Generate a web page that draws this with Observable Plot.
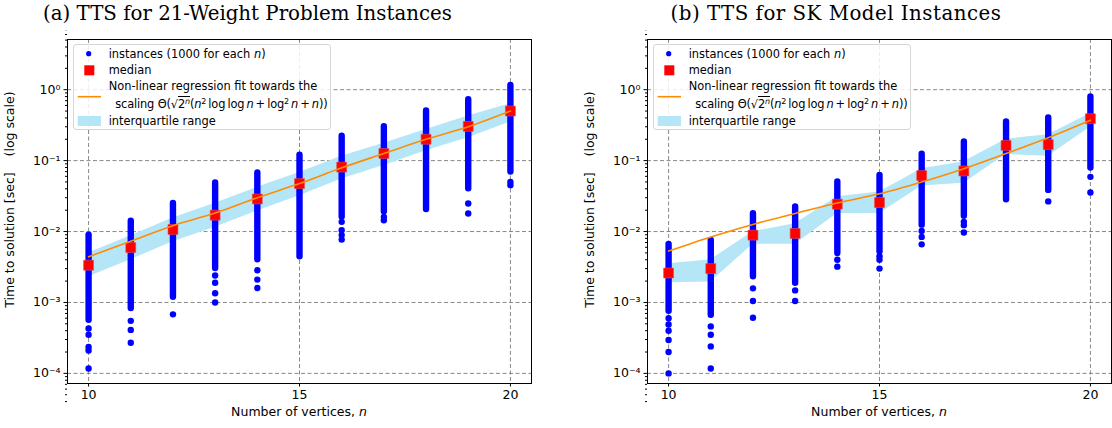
<!DOCTYPE html>
<html><head><meta charset="utf-8">
<script src="https://cdn.jsdelivr.net/npm/d3@7"></script>
<script src="https://cdn.jsdelivr.net/npm/@observablehq/plot@0.6"></script>
<style>
body{margin:0;background:#fff;width:1112px;height:428px;overflow:hidden;position:relative;font-family:"DejaVu Sans",sans-serif;color:#000;}
.panel{position:absolute;top:0;width:532px;height:428px;}
.title{position:absolute;top:1px;font-family:"DejaVu Serif",serif;font-size:19.8px;white-space:nowrap;transform:translateX(-50%);line-height:26px;}
.chart{position:absolute;top:30px;left:0;}
.xlabel{position:absolute;top:404px;left:299px;font-size:12.5px;line-height:16px;transform:translateX(-50%);white-space:nowrap;}
.legend{position:absolute;left:73px;top:44px;width:256px;height:84px;border:1px solid #d6d6d6;border-radius:3px;background:rgba(255,255,255,0.85);font-size:11.4px;}
.legend .t{position:absolute;white-space:nowrap;line-height:14px;}
.legend .m{letter-spacing:-0.15px;}
.legend sup{font-size:70%;vertical-align:0.45em;line-height:0;}
.ov{border-top:0.8px solid #000;padding-top:0;}
.sym{position:absolute;}
</style>
</head><body>
<script>
// ---------- shared axis values ----------
const nVals = [10, 11, 12, 13, 14, 15, 16, 17, 18, 19, 20];
const xTicks = [10, 15, 20];
const yMajor = [1e-4, 1e-3, 1e-2, 1e-1, 1];

// ---------- (a) 21-Weight problem instances ----------
const wMedian = [0.00335, 0.00595, 0.0107, 0.017, 0.0288, 0.0474, 0.081, 0.126, 0.2, 0.304, 0.5];
const wQ1 = [0.0023, 0.004, 0.0072, 0.0115, 0.0195, 0.032, 0.055, 0.085, 0.138, 0.21, 0.35];
const wQ3 = [0.005, 0.0087, 0.0155, 0.025, 0.042, 0.068, 0.115, 0.175, 0.275, 0.425, 0.635];
const wFit = [0.0044, 0.0073, 0.0121, 0.0182, 0.030, 0.0474, 0.079, 0.126, 0.2, 0.30, 0.5];
const wHigh = [0.0089, 0.014, 0.0248, 0.0484, 0.067, 0.119, 0.22, 0.30, 0.50, 0.72, 1.15];
const wLow = [0.00056, 0.00082, 0.00118, 0.003, 0.004, 0.0044, 0.016, 0.019, 0.0204, 0.040, 0.069];
const wOutliers = [
  [4.3e-4, 3.5e-4, 2.35e-4, 2.1e-4, 1.17e-4],
  [5.5e-4, 4.1e-4, 2.7e-4],
  [6.8e-4],
  [0.0024, 0.0019, 0.00135, 0.001],
  [0.00285, 0.0021, 0.0016],
  [],
  [0.0137, 0.0104, 0.0089, 0.0077],
  [0.016, 0.0144],
  [],
  [0.0248, 0.018],
  [0.050, 0.045]
];

// ---------- (b) SK model instances ----------
const sMedian = [0.0026, 0.0030, 0.0089, 0.0094, 0.0243, 0.0256, 0.0615, 0.0714, 0.164, 0.168, 0.39];
const sQ1 = [0.0019, 0.00195, 0.0066, 0.0066, 0.018, 0.018, 0.044, 0.048, 0.122, 0.115, 0.297];
const sQ3 = [0.0035, 0.0040, 0.0099, 0.0129, 0.031, 0.036, 0.077, 0.096, 0.20, 0.232, 0.46];
const sFit = [0.0053, 0.0084, 0.0126, 0.018, 0.0253, 0.034, 0.050, 0.077, 0.126, 0.21, 0.37];
const sHigh = [0.0066, 0.0075, 0.0178, 0.0223, 0.050, 0.062, 0.123, 0.183, 0.35, 0.40, 0.79];
const sLow = [0.00075, 0.00066, 0.0023, 0.00186, 0.0049, 0.0052, 0.0123, 0.0164, 0.028, 0.038, 0.0786];
const sOutliers = [
  [6.0e-4, 4.9e-4, 4.0e-4, 2.95e-4, 2.0e-4, 1.0e-4],
  [4.6e-4, 3.5e-4, 2.4e-4, 1.17e-4],
  [0.00158, 0.00105, 6.1e-4],
  [0.00148, 0.00105],
  [0.004, 0.0032],
  [0.0045, 0.004, 0.003],
  [0.0102, 0.0084, 0.0066],
  [0.0137, 0.0123, 0.0097],
  [],
  [0.0266],
  [0.059, 0.0355]
];

const titles = ["(a) TTS for 21-Weight Problem Instances", "(b) TTS for SK Model Instances"];
const NB = "\u00a0";
const yLabel = NB.repeat(6) + "Time to solution [sec]" + NB.repeat(4) + "(log scale)";

const BLUE = "#0000ff", RED = "#ff0000", ORANGE = "#ff8c00", BAND = "#b4e6f8", GRID = "#7a7a7a";

const supMap = {"0":"⁰","1":"¹","2":"²","3":"³","4":"⁴","5":"⁵","-":"⁻"};
const powFmt = d => "10" + String(Math.round(Math.log10(d))).split("").map(c => supMap[c]).join("");

const yMinor = [];
for (const dec of yMajor.concat([10])) for (let k = 2; k <= 9; k++) yMinor.push(dec / 10 * k);

function chart(median, q1, q3, fit, high, low, outliers) {
  const rows = nVals.map((n, i) => ({n, med: median[i], q1: q1[i], q3: q3[i], fit: fit[i], hi: high[i], lo: low[i]}));
  const pts = outliers.flatMap((arr, i) => arr.map(v => ({n: nVals[i], v})));
  return Plot.plot({
    width: 532, height: 374,
    marginLeft: 67, marginRight: 1, marginTop: 9, marginBottom: 21,
    style: {fontFamily: "DejaVu Sans", fontSize: "12.5px", color: "#000", background: "transparent"},
    x: {domain: [9.5, 20.5]},
    y: {type: "log", domain: [7.2e-5, 5.1]},
    marks: [
      Plot.gridY(yMajor, {stroke: GRID, strokeOpacity: 1, strokeWidth: 0.9, strokeDasharray: "4,2.5"}),
      Plot.gridX(xTicks, {stroke: GRID, strokeOpacity: 1, strokeWidth: 0.9, strokeDasharray: "4,2.5"}),
      Plot.areaY(rows, {x: "n", y1: "q1", y2: "q3", fill: BAND, fillOpacity: 1}),
      Plot.ruleX(rows, {x: "n", y1: "lo", y2: "hi", stroke: BLUE, strokeWidth: 6.4, strokeLinecap: "round"}),
      Plot.dot(pts, {x: "n", y: "v", r: 3.2, fill: BLUE}),
      Plot.dot(rows, {x: "n", y: "med", symbol: "square", r: 5.6, fill: RED, stroke: "#e84a4a", strokeWidth: 0.6}),
      Plot.line(rows, {x: "n", y: "fit", stroke: ORANGE, strokeWidth: 1.6, curve: "catmull-rom"}),
      Plot.frame({stroke: "#000", strokeWidth: 1}),
      Plot.axisX(xTicks, {tickSize: 3.5, tickPadding: 3.5, fontSize: 12.5, tickFormat: d => String(d), label: null}),
      Plot.axisY(yMinor, {tickSize: 2, fill: "none", label: null}),
      Plot.axisY(yMajor, {tickSize: 3.5, tickPadding: 3.5, fontSize: 12.5, tickFormat: powFmt, label: yLabel, labelAnchor: "center", labelArrow: "none", labelOffset: 62})
    ]
  });
}

const TS = "\u2009";
function legendHTML() {
  return `<div class="legend">
    <svg class="sym" style="left:0;top:0" width="40" height="84">
      <circle cx="14.7" cy="8.7" r="2.6" fill="${BLUE}"/>
      <rect x="10.3" y="20.3" width="10" height="10" fill="${RED}"/>
      <line x1="3.7" x2="27" y1="51.7" y2="51.7" stroke="${ORANGE}" stroke-width="1.6"/>
      <rect x="3.7" y="71" width="23.3" height="10" fill="${BAND}"/>
    </svg>
    <div class="t" style="left:34.7px;top:1.7px">instances (1000 for each <i>n</i>)</div>
    <div class="t" style="left:34.7px;top:18.3px">median</div>
    <div class="t" style="left:34.7px;top:34px">Non-linear regression fit towards the</div>
    <div class="t m" style="left:41.3px;top:51.7px">scaling Θ(√<span class="ov">2<sup><i>n</i></sup></span>(<i>n</i><sup>2</sup>${TS}log${TS}log${TS}<i>n</i>${TS}+${TS}log<sup>2</sup>${TS}<i>n</i>${TS}+${TS}<i>n</i>))</div>
    <div class="t" style="left:34.7px;top:69px">interquartile range</div>
  </div>`;
}

const panelDefs = [
  {left: 0, titleX: 247.5, ls: 0, args: [wMedian, wQ1, wQ3, wFit, wHigh, wLow, wOutliers]},
  {left: 580, titleX: 256, ls: 0.5, args: [sMedian, sQ1, sQ3, sFit, sHigh, sLow, sOutliers]}
];

panelDefs.forEach((p, i) => {
  const div = document.createElement("div");
  div.className = "panel";
  div.style.left = p.left + "px";
  div.innerHTML = `<div class="title" style="left:${p.titleX}px;letter-spacing:${p.ls}px">${titles[i]}</div>`;
  const c = document.createElement("div");
  c.className = "chart";
  c.appendChild(chart(...p.args));
  div.appendChild(c);
  div.insertAdjacentHTML("beforeend", legendHTML());
  div.insertAdjacentHTML("beforeend", `<div class="xlabel">Number of vertices, <i>n</i></div>`);
  document.body.appendChild(div);
});
</script>
</body></html>
